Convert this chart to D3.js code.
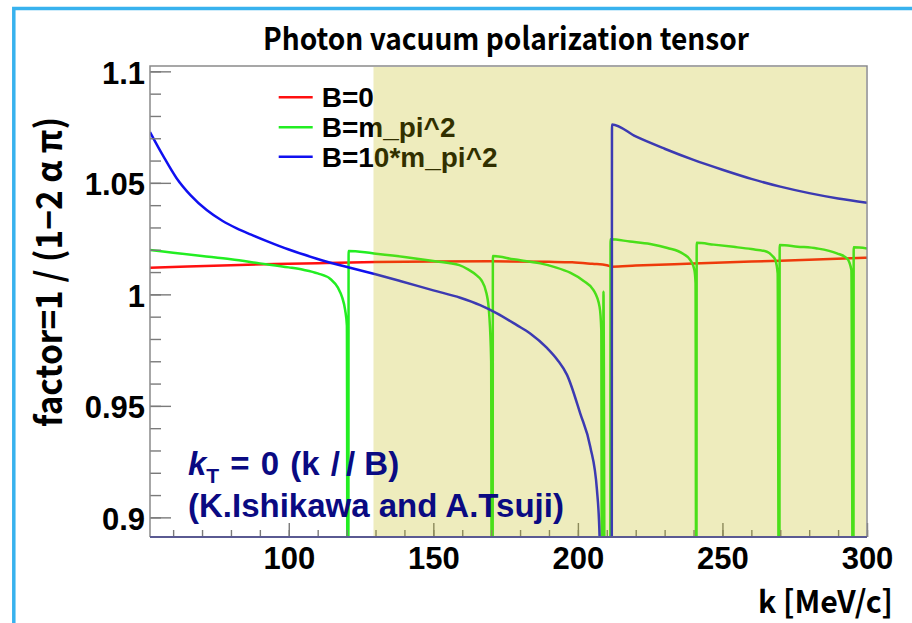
<!DOCTYPE html>
<html>
<head>
<meta charset="utf-8">
<script src="https://cdn.jsdelivr.net/npm/d3@7"></script>
<style>
  html, body { margin: 0; padding: 0; background: #ffffff; }
  svg { display: block; }
</style>
</head>
<body>
<svg id="chart" width="912" height="623"></svg>
<script>
// Photon vacuum polarization correction factor vs photon momentum k
const seriesNames = ["B=0", "B=m_pi^2", "B=10*m_pi^2"];
const seriesColors = ["#ff1010", "#22ee22", "#1010f0"];

// B = 0
const kB0 = [52, 65, 80, 95, 110, 130, 150, 170, 190, 198, 205, 210, 211.8, 220, 240, 260, 280, 300];
const fB0 = [1.0119, 1.0125, 1.0131, 1.0136, 1.0140, 1.0145, 1.0147, 1.0148, 1.0146, 1.0144, 1.0137, 1.0131, 1.0124, 1.0129, 1.0138, 1.0147, 1.0155, 1.0164];

// B = m_pi^2 (values below the axis floor mark the resonant dips)
const kB1 = [52, 60, 70, 80, 90, 100, 105, 110, 114.5, 117, 118.5, 119.5, 120.1, 120.3,
             120.6, 120.7, 129, 140, 150, 159, 162, 165, 166.6, 168.4, 169.3, 170.0, 170.2,
             170.5, 170.6, 177.8, 187, 192, 197.3, 202, 205.4, 207.5, 208.1, 208.3,
             208.7, 208.85, 209.3, 211.2, 211.3, 218, 225, 231, 236.5, 238.9, 240.3, 240.7, 240.9,
             241.0, 241.1, 247, 253.8, 260, 265.4, 267.3, 268.3, 269.1, 269.5,
             269.7, 269.8, 276, 282.7, 289.6, 293.1, 294.6, 295.1,
             295.3, 295.4, 300];
const fB1 = [1.0199, 1.0187, 1.0172, 1.0157, 1.0139, 1.0121, 1.0110, 1.0094, 1.0068, 1.0030, 0.9985, 0.9930, 0.9860, 0.85,
             0.85, 1.0195, 1.0184, 1.0168, 1.0150, 1.0131, 1.0112, 1.0085, 1.0064, 1.0004, 0.9915, 0.9700, 0.85,
             0.85, 1.0172, 1.0157, 1.0139, 1.0122, 1.0097, 1.0060, 1.0019, 0.9944, 0.9840, 0.85,
             0.85, 1.0012, 0.85, 0.85, 1.0247, 1.0237, 1.0226, 1.0208, 1.0181, 1.0154, 1.0109, 1.0050, 0.85,
             0.85, 1.0231, 1.0223, 1.0213, 1.0203, 1.0191, 1.0172, 1.0154, 1.0094, 0.85,
             0.85, 1.0221, 1.0214, 1.0206, 1.0184, 1.0161, 1.0109, 0.85,
             0.85, 1.0211, 1.0206];

// B = 10 m_pi^2
const kB10 = [52, 56.6, 61.2, 66, 71.6, 77, 82, 87, 92.4, 100, 109.7, 121.2, 130, 138.5, 150, 159.3,
              166.2, 172, 178.9, 183.5, 189.3, 193, 196.2, 200.8, 204.3, 206.6, 207.5, 207.8,
              211.7, 211.8, 220, 230, 240, 250, 260, 270, 280, 290, 300];
const fB10 = [1.0728, 1.0620, 1.0521, 1.0445, 1.0378, 1.0330, 1.0296, 1.0268, 1.0239, 1.0201, 1.0160, 1.0119, 1.0090, 1.0060, 1.0018, 0.9985,
              0.9952, 0.9915, 0.9862, 0.9825, 0.9760, 0.9705, 0.9640, 0.9466, 0.9316, 0.9122, 0.8914, 0.85,
              0.85, 1.0762, 1.0708, 1.0653, 1.0603, 1.0559, 1.0518, 1.0483, 1.0454, 1.0430, 1.0411];

const kSeries = [kB0, kB1, kB10];
const fSeries = [fB0, fB1, fB10];

// axis ranges and ticks
const kDomain = [52, 300];
const fDomain = [0.8912, 1.1024];
const fMajorTicks = [0.9, 0.95, 1.0, 1.05, 1.1];
const fMinorTicks = d3.range(90, 111).map(v => v / 100);
const kMajorTicks = [100, 150, 200, 250, 300];
const kMinorTicks = d3.range(60, 301, 10);
const highlightK = [129.3, 300];

const svg = d3.select("#chart");
const W = 912, H = 623;
const plot = { left: 150, right: 867, top: 66, bottom: 537 };

const x = d3.scaleLinear().domain(kDomain).range([plot.left, plot.right]);
const y = d3.scaleLinear().domain(fDomain).range([plot.bottom, plot.top]);

// slide border
svg.append("path")
  .attr("d", `M13.8,${H} L13.8,8.5 L${W},8.5`)
  .attr("fill", "none").attr("stroke", "#38b2ee").attr("stroke-width", 3.5);

svg.append("defs").append("clipPath").attr("id", "plotClip")
  .append("rect")
  .attr("x", plot.left).attr("y", plot.top)
  .attr("width", plot.right - plot.left).attr("height", plot.bottom - plot.top);

// curves
const line = d3.line().curve(d3.curveMonotoneX).x(d => x(d[0])).y(d => y(d[1]));
const curves = svg.append("g").attr("clip-path", "url(#plotClip)");
kSeries.forEach((ks, i) => {
  curves.append("path")
    .datum(ks.map((k, j) => [k, fSeries[i][j]]))
    .attr("d", line)
    .attr("fill", "none")
    .attr("stroke", seriesColors[i])
    .attr("stroke-width", 2.5)
    .attr("stroke-linejoin", "round");
});

// legend
const legend = svg.append("g");
const legendY = [97.3, 127.3, 156.7];
seriesNames.forEach((name, i) => {
  legend.append("line")
    .attr("x1", 278.7).attr("x2", 312.7)
    .attr("y1", legendY[i]).attr("y2", legendY[i])
    .attr("stroke", seriesColors[i]).attr("stroke-width", 2.5);
  legend.append("text")
    .attr("x", 321.7).attr("y", legendY[i]).attr("dy", "0.36em")
    .attr("font-family", "'Liberation Sans', Arial, sans-serif")
    .attr("font-weight", "bold").attr("font-size", 28)
    .attr("fill", "#000").text(name);
});

// axes (ticks drawn inward)
const tickFont = "'Liberation Sans', Arial, sans-serif";
function styleAxis(g) {
  g.select(".domain").remove();
  g.selectAll(".tick line").attr("stroke", "#7a7a7a").attr("stroke-width", 1.4);
  g.selectAll(".tick text")
    .attr("font-family", tickFont).attr("font-weight", "bold")
    .attr("font-size", 31).attr("fill", "#000");
}
svg.append("g").attr("transform", `translate(${plot.left},0)`)
  .call(d3.axisLeft(y).tickValues(fMinorTicks).tickSizeInner(-11).tickSizeOuter(0).tickFormat(""))
  .call(styleAxis);
svg.append("g").attr("transform", `translate(${plot.left},0)`)
  .call(d3.axisLeft(y).tickValues(fMajorTicks).tickSizeInner(-21).tickSizeOuter(0)
    .tickPadding(5).tickFormat(d => String(+d.toFixed(2))))
  .call(styleAxis)
  .call(g => g.selectAll(".tick text").attr("dy", "0.38em"));
svg.append("g").attr("transform", `translate(0,${plot.bottom})`)
  .call(d3.axisBottom(x).tickValues(kMinorTicks).tickSizeInner(-7).tickSizeOuter(0).tickFormat(""))
  .call(styleAxis);
svg.append("g").attr("transform", `translate(0,${plot.bottom})`)
  .call(d3.axisBottom(x).tickValues(kMajorTicks).tickSizeInner(-14).tickSizeOuter(0).tickPadding(10))
  .call(styleAxis);

// highlighted momentum band
svg.append("rect")
  .attr("x", x(highlightK[0])).attr("y", plot.top + 1)
  .attr("width", x(highlightK[1]) - x(highlightK[0]) - 1)
  .attr("height", plot.bottom - plot.top - 2)
  .attr("fill", "rgb(190,182,0)").attr("fill-opacity", 0.26);

// frame
svg.append("path")
  .attr("d", `M${plot.left},${plot.bottom} L${plot.left},${plot.top} L${plot.right},${plot.top} L${plot.right},${plot.bottom}`)
  .attr("fill", "none").attr("stroke", "#8a8a8a").attr("stroke-width", 1.5);
svg.append("line")
  .attr("x1", plot.left).attr("x2", plot.right)
  .attr("y1", plot.bottom).attr("y2", plot.bottom)
  .attr("stroke", "#5a5a92").attr("stroke-width", 1.8);

// titles
const gothic = "'Noto Sans CJK JP', 'Noto Sans', sans-serif";
svg.append("text")
  .attr("x", 263).attr("y", 50)
  .attr("font-family", gothic).attr("font-weight", 700).attr("font-size", 31)
  .attr("textLength", 486).attr("lengthAdjust", "spacingAndGlyphs")
  .attr("fill", "#000").text("Photon vacuum polarization tensor");

svg.append("text")
  .attr("x", 758).attr("y", 613)
  .attr("font-family", gothic).attr("font-weight", 700).attr("font-size", 31)
  .attr("textLength", 135).attr("lengthAdjust", "spacingAndGlyphs")
  .attr("fill", "#000").text("k [MeV/c]");

svg.append("text")
  .attr("transform", "translate(62,272) rotate(-90)")
  .attr("text-anchor", "middle")
  .attr("font-family", gothic).attr("font-weight", 700).attr("font-size", 36)
  .attr("textLength", 310).attr("lengthAdjust", "spacingAndGlyphs")
  .attr("fill", "#000").text("factor=1 / (1\u22122 \u03b1 \u03c0)");

// annotation
const note = svg.append("g")
  .attr("font-family", tickFont).attr("font-weight", "bold")
  .attr("font-size", 33).attr("fill", "#0a0a82");
const l1 = note.append("text").attr("x", 188).attr("y", 475);
l1.append("tspan").attr("font-style", "italic").text("k");
l1.append("tspan").attr("font-size", 21).attr("dy", 8).text("T");
l1.append("tspan").attr("dy", -8).attr("word-spacing", 2).text(" = 0 (k ");
l1.append("tspan").attr("letter-spacing", 6).text("/");
l1.append("tspan").text("/ B)");
note.append("text").attr("x", 188).attr("y", 517).text("(K.Ishikawa and A.Tsuji)");
</script>
</body>
</html>
